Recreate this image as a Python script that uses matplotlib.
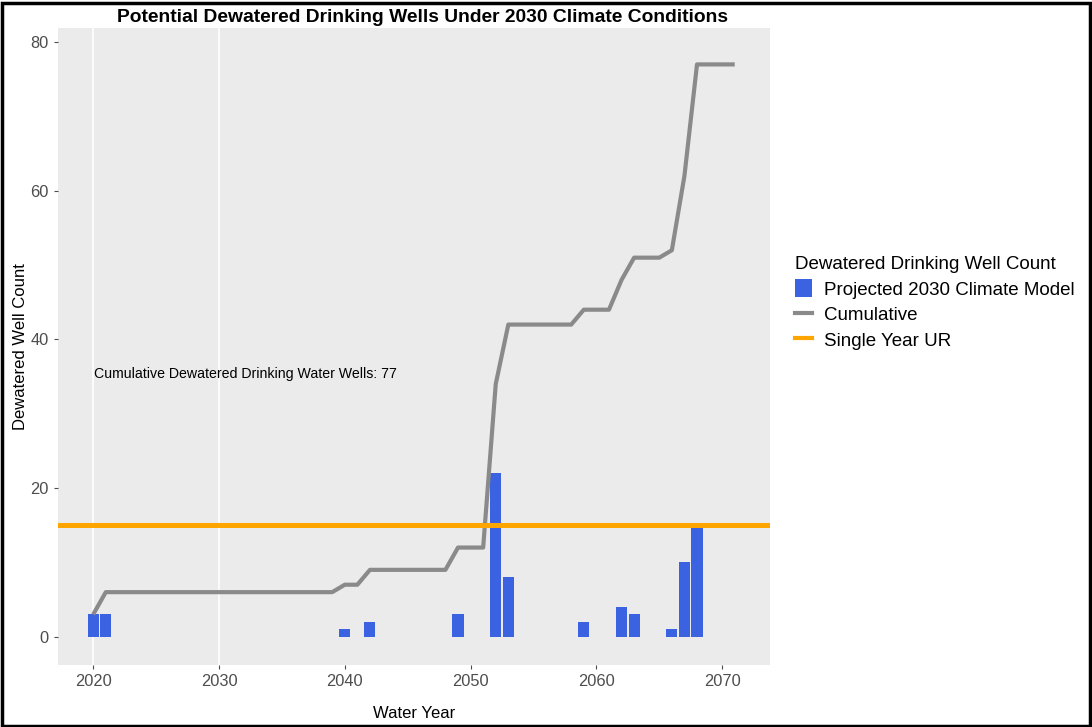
import numpy as np
import matplotlib
matplotlib.use("Agg")
import matplotlib.pyplot as plt
from matplotlib.patches import Patch, Rectangle
from matplotlib.lines import Line2D

plt.rcParams['font.family'] = ['Liberation Sans', 'DejaVu Sans']

# water years and dewatered well counts per year
years = list(range(2020, 2072))
bar_years = [2020, 2021, 2040, 2042, 2049, 2052, 2053, 2059, 2062, 2063, 2066, 2067, 2068]
bar_counts = [3, 3, 1, 2, 3, 22, 8, 2, 4, 3, 1, 10, 15]
single_year_ur = 15
grid_years = [2020, 2030]
x_ticks = [2020, 2030, 2040, 2050, 2060, 2070]
y_ticks = [0, 20, 40, 60, 80]

counts = np.zeros(len(years))
for yr, c in zip(bar_years, bar_counts):
    counts[years.index(yr)] = c
cumulative = np.cumsum(counts)

fig = plt.figure(figsize=(10.92, 7.27), dpi=100)
ax = fig.add_axes([0.0531, 0.0853, 0.652, 0.8762])
ax.set_facecolor("#ebebeb")

for g in grid_years:
    ax.axvline(g, color="white", lw=1.2, zorder=0)

ax.bar(bar_years, bar_counts, width=0.88, color="#3b62e0", zorder=2)
ax.plot(years, cumulative, color="#8a8a8a", lw=3.0, zorder=3, solid_capstyle="butt")
ax.axhline(single_year_ur, color="#ffa500", lw=3.6, zorder=4)

ax.text(2020.1, 35.3, "Cumulative Dewatered Drinking Water Wells: %d" % int(cumulative[-1]),
        fontsize=10.2, color="black", va="center", ha="left")

ax.set_xlim(2017.2, 2073.8)
ax.set_ylim(-3.8, 81.9)
ax.set_xticks(x_ticks)
ax.set_yticks(y_ticks)
ax.tick_params(colors="#4d4d4d", labelsize=11.8, length=3, width=0.8)
for s in ax.spines.values():
    s.set_visible(False)

ax.set_xlabel("Water Year", fontsize=12, labelpad=12)
ax.set_ylabel("Dewatered Well Count", fontsize=12, labelpad=2)
ax.set_title("Potential Dewatered Drinking Wells Under 2030 Climate Conditions",
             fontsize=13.9, fontweight="bold", pad=4, x=0.512)

handles = [Patch(facecolor="#3b62e0", edgecolor="none"),
           Line2D([], [], color="#8a8a8a", lw=3),
           Line2D([], [], color="#ffa500", lw=3)]
labels = ["Projected 2030 Climate Model", "Cumulative", "Single Year UR"]
leg = fig.legend(handles, labels, title="Dewatered Drinking Well Count",
                 loc="upper left", bbox_to_anchor=(0.7215, 0.658), frameon=False,
                 fontsize=13.5, title_fontsize=13.5, handlelength=0.9, handleheight=1.1,
                 handletextpad=0.6, labelspacing=0.33, borderaxespad=0)
leg._legend_box.align = "left"

fig.patches.append(Rectangle((0.002, 0.002), 0.996, 0.994, transform=fig.transFigure,
                             fill=False, edgecolor="black", lw=2.5))

fig.savefig("out.png", dpi=100)
